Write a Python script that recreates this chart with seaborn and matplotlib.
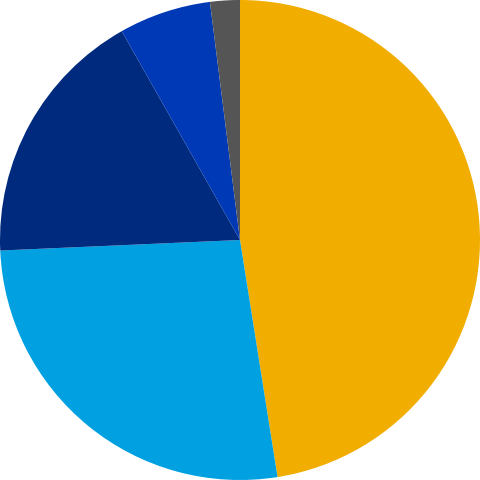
import matplotlib
matplotlib.use("Agg")
import matplotlib.pyplot as plt
import seaborn as sns

# slice shares, clockwise from 12 o'clock
labels = ["A", "B", "C", "D", "E"]
shares = [47.5, 26.8, 17.5, 6.2, 2.0]
colors = ["#F2AE00", "#00A0E1", "#002A7E", "#0039B5", "#555555"]

sns.set_theme(style="white")

fig, ax = plt.subplots(figsize=(4.8, 4.8), dpi=100)
fig.subplots_adjust(left=0, right=1, bottom=0, top=1)

ax.pie(shares, colors=colors, startangle=90, counterclock=False,
       radius=1.0, wedgeprops={"linewidth": 0})
ax.set_xlim(-1, 1)
ax.set_ylim(-1, 1)
ax.set_aspect("equal")
ax.axis("off")

fig.savefig("out.png", dpi=100, facecolor="white")
